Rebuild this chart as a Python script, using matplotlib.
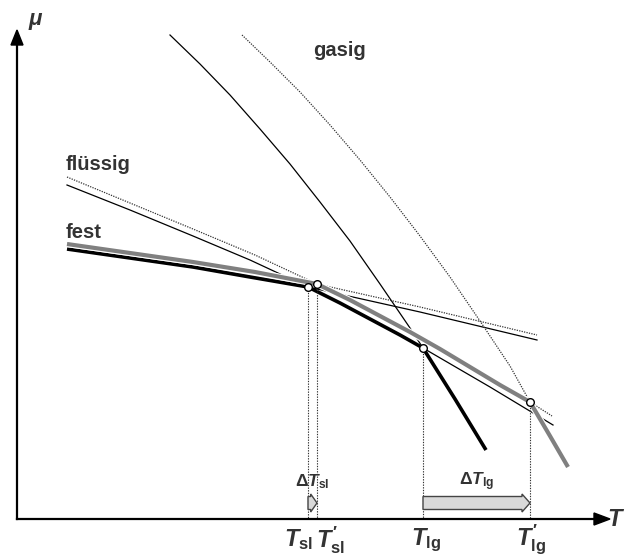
import matplotlib
matplotlib.use("Agg")
import matplotlib.pyplot as plt
import matplotlib.patheffects as pe
from matplotlib.patches import FancyArrow, Polygon

# schematic chemical potential vs temperature; coordinates are on a 626 x 557 grid,
# T to the right, mu upward
H = 557

# solid phase: stable branch (left of T_sl) and its metastable continuation
fest_T = [67, 130, 193, 250, 308]
fest_mu = [308, 299, 290, 280, 270]
fest_ext_T = [308, 420, 537]
fest_ext_mu = [270, 245, 217]

# shifted solid phase (grey)
fest2_T = [67, 130, 193, 255, 317]
fest2_mu = [313, 304, 295, 285, 273]
fest2_ext_T = [317, 420, 537]
fest2_ext_mu = [273, 250, 222]

# liquid phase
fl_pre_T = [67, 130, 193, 250, 308]
fl_pre_mu = [372, 347, 321, 297, 270]
fl_T = [308, 340, 370, 400, 423]
fl_mu = [270, 254, 238, 222, 209]
fl_post_T = [423, 490, 553]
fl_post_mu = [209, 170, 132]

# shifted liquid phase
fl2_pre_T = [67, 130, 193, 255, 317]
fl2_pre_mu = [380, 354, 328, 302, 273]
fl2_T = [317, 350, 380, 410, 440, 470, 500, 530]
fl2_mu = [273, 257, 241, 225, 208, 190, 172, 155]
fl2_post_T = [530, 552]
fl2_post_mu = [155, 141]

# gas phase
gas_pre_T = [170, 200, 230, 260, 290, 320, 350, 380, 410, 423]
gas_pre_mu = [522, 493, 462, 428, 393, 355, 316, 273, 229, 209]
gas_T = [423, 455, 486]
gas_mu = [209, 158, 107]

# shifted gas phase
gas2_pre_T = [242, 270, 300, 330, 360, 390, 420, 450, 480, 510, 530]
gas2_pre_mu = [522, 495, 465, 432, 397, 360, 321, 280, 236, 191, 155]
gas2_T = [530, 550, 568]
gas2_mu = [155, 121, 90]

# transition points
trans_T = [308, 317, 423, 530]
trans_mu = [270, 273, 209, 155]
trans_labels = [r"$T_{\rm sl}$", r"$T^{\prime}_{\rm sl}$", r"$T_{\rm lg}$", r"$T^{\prime}_{\rm lg}$"]

plt.rcParams["font.family"] = ["Liberation Sans", "DejaVu Sans"]
plt.rcParams["mathtext.fontset"] = "custom"
plt.rcParams["mathtext.rm"] = "Liberation Sans:bold"
plt.rcParams["mathtext.it"] = "Liberation Sans:bold:italic"
plt.rcParams["mathtext.bf"] = "Liberation Sans:bold"

fig = plt.figure(figsize=(6.26, 5.57), dpi=100)
ax = fig.add_axes([0, 0, 1, 1])
ax.set_xlim(0, 626)
ax.set_ylim(0, H)
ax.axis("off")

txt = "#333333"
grey = "#808080"
thin = dict(color="black", lw=0.9)
dots = dict(color="#333333", lw=0.9, ls=(0, (1, 1)))

# thin / metastable lines
ax.plot(fl_pre_T, fl_pre_mu, **thin)
ax.plot(fl_post_T, fl_post_mu, **thin)
ax.plot(fest_ext_T, fest_ext_mu, **thin)
ax.plot(gas_pre_T, gas_pre_mu, **thin)
ax.plot(fl2_pre_T, fl2_pre_mu, **dots)
ax.plot(fl2_post_T, fl2_post_mu, **dots)
ax.plot(fest2_ext_T, fest2_ext_mu, **dots)
ax.plot(gas2_pre_T, gas2_pre_mu, **dots)

# stable branches
ax.plot(fest_T + fl_T + gas_T, fest_mu + fl_mu + gas_mu, color="black", lw=2.6,
        solid_capstyle="butt", solid_joinstyle="round")
ax.plot(fest2_T + fl2_T + gas2_T, fest2_mu + fl2_mu + gas2_mu, color=grey, lw=3.0,
        solid_capstyle="butt", solid_joinstyle="round",
        path_effects=[pe.Stroke(linewidth=4.6, foreground="white"), pe.Normal()])

# drop lines to the T axis
axis_mu = H - 519
for t, m in zip(trans_T, trans_mu):
    ax.plot([t, t], [m, axis_mu], color="#333333", lw=0.8, ls=(0, (1.2, 1.2)))
ax.plot(trans_T, trans_mu, "o", ms=5.5, mfc="white", mec="black", mew=1.0, zorder=5)

# axes with arrow heads
ax.plot([17, 596], [axis_mu, axis_mu], color="black", lw=1.6)
ax.plot([17, 17], [axis_mu, H - 45], color="black", lw=1.6)
ax.add_patch(Polygon([[594, axis_mu + 6], [610, axis_mu], [594, axis_mu - 6]],
                     closed=True, color="black"))
ax.add_patch(Polygon([[11, H - 45], [17, H - 30], [23, H - 45]], closed=True, color="black"))
ax.text(35, H - 20, "μ", fontsize=16, fontweight="bold", fontstyle="italic",
        color=txt, ha="center", va="center")
ax.text(616, H - 520, r"$T$", fontsize=17, color=txt, ha="center", va="center")

# phase labels
ax.text(340, H - 50, "gasig", fontsize=14.5, fontweight="bold", color=txt,
        ha="center", va="center")
ax.text(66, H - 165, "flüssig", fontsize=14.5, fontweight="bold", color=txt,
        ha="left", va="center")
ax.text(66, H - 232, "fest", fontsize=14.5, fontweight="bold", color=txt,
        ha="left", va="center")

# transition temperature labels
label_x = [299, 331, 426, 531]
for x, lab in zip(label_x, trans_labels):
    ax.text(x, H - 540, lab, fontsize=17, color=txt, ha="center", va="center")

# shift arrows
arrow_mu = H - 503
for t0, t1 in [(trans_T[0], trans_T[1]), (trans_T[2], trans_T[3])]:
    ax.add_patch(FancyArrow(t0, arrow_mu, t1 - t0, 0, width=13, head_width=18,
                            head_length=min(8, (t1 - t0) * 0.7), length_includes_head=True,
                            facecolor="#d9d9d9", edgecolor="#444444", lw=1.0, zorder=4))
ax.text(312, H - 482, r"$\Delta T_{\rm sl}$", fontsize=12.5, color=txt, ha="center", va="center")
ax.text(477, H - 482, r"$\Delta T_{\rm lg}$", fontsize=12.5, color=txt, ha="center", va="center")

fig.savefig("out.png", dpi=100)
